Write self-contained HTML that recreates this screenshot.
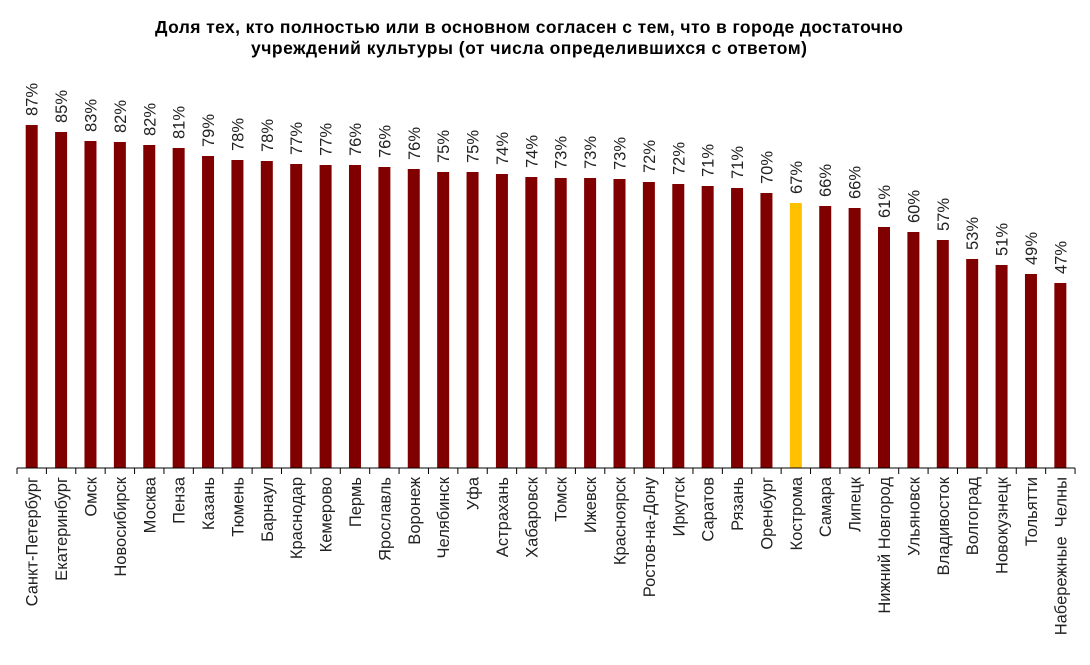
<!DOCTYPE html>
<html><head><meta charset="utf-8"><style>
body{margin:0;background:#fff;width:1090px;height:660px;overflow:hidden;font-family:"Liberation Sans",sans-serif}
</style></head><body>
<svg width="1090" height="660" xmlns="http://www.w3.org/2000/svg" font-family="Liberation Sans, sans-serif">
<text x="529" y="33" text-anchor="middle" font-size="17.5" font-weight="bold" textLength="748">Доля тех, кто полностью или в основном согласен с тем, что в городе достаточно</text>
<text x="529" y="54" text-anchor="middle" font-size="17.5" font-weight="bold" textLength="556">учреждений культуры (от числа определившихся с ответом)</text>
<g id="c"></g>
</svg>
<script>
const d=[["Санкт-Петербург",87],["Екатеринбург",85],["Омск",83],["Новосибирск",82],["Москва",82],["Пенза",81],["Казань",79],["Тюмень",78],["Барнаул",78],["Краснодар",77],["Кемерово",77],["Пермь",76],["Ярославль",76],["Воронеж",76],["Челябинск",75],["Уфа",75],["Астрахань",74],["Хабаровск",74],["Томск",73],["Ижевск",73],["Красноярск",73],["Ростов-на-Дону",72],["Иркутск",72],["Саратов",71],["Рязань",71],["Оренбург",70],["Кострома",67],["Самара",66],["Липецк",66],["Нижний Новгород",61],["Ульяновск",60],["Владивосток",57],["Волгоград",53],["Новокузнецк",51],["Тольятти",49],["Набережные  Челны",47]];
const tops=[125,132,141,142,145,148,156,160,161,164,165,165,167,169,172,172,174,177,178,178,179,182,184,186,188,193,203,206,208,227,232,240,259,265,274,283];
let s='';const x0=17,w=29.39,b=468;
d.forEach((e,i)=>{const cx=x0+w*(i+0.5);const t=tops[i];
s+=`<rect x="${cx-6}" y="${t}" width="12" height="${b-t}" fill="${e[0]=='Кострома'?'#FFC000':'#800000'}"/>`;
s+=`<text transform="translate(${cx+6},${t-9}) rotate(-90)" font-size="16.5" fill="#222">${e[1]}%</text>`;
s+=`<text transform="translate(${cx+6},${b+9}) rotate(-90)" font-size="16.5" fill="#222" text-anchor="end" xml:space="preserve">${e[0]}</text>`;
s+=`<line x1="${x0+w*i}" y1="${b}" x2="${x0+w*i}" y2="${b+6}" stroke="#000"/>`;});
s+=`<line x1="${x0+w*36}" y1="${b}" x2="${x0+w*36}" y2="${b+6}" stroke="#000"/>`;
s+=`<line x1="${x0}" y1="${b}" x2="${x0+w*36}" y2="${b}" stroke="#000"/>`;
document.getElementById('c').innerHTML=s;
</script>
</body></html>
